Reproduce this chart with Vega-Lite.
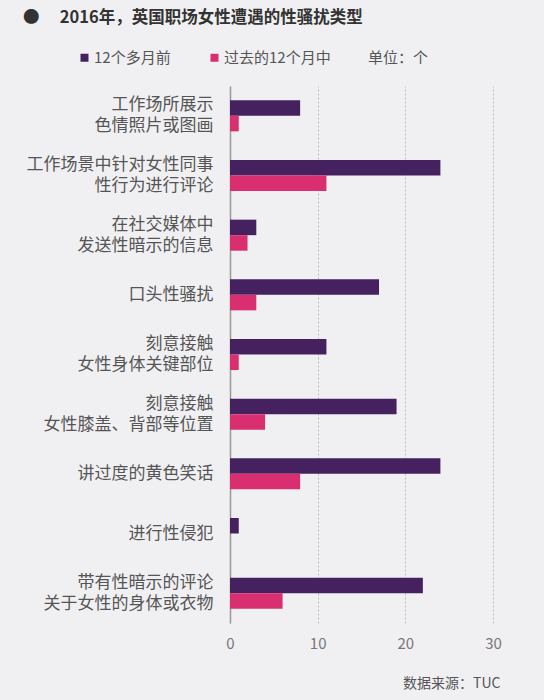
{
  "$schema": "https://vega.github.io/schema/vega-lite/v6.json",
  "autosize": "none",
  "width": 263,
  "height": 537,
  "padding": {"left": 230, "top": 86, "right": 51, "bottom": 77},
  "background": "#f0f0f2",
  "title": {
    "text": "● 　2016年，英国职场女性遭遇的性骚扰类型",
    "anchor": "start",
    "frame": "group",
    "dx": -207,
    "offset": 24,
    "fontSize": 16.5,
    "fontWeight": "bold",
    "color": "#333333",
    "font": "Noto Sans CJK SC"
  },
  "data": {
    "values": [
      {"type": "工作场所展示|色情照片或图画", "period": "12个多月前", "count": 8},
      {"type": "工作场所展示|色情照片或图画", "period": "过去的12个月中", "count": 1},
      {"type": "工作场景中针对女性同事|性行为进行评论", "period": "12个多月前", "count": 24},
      {"type": "工作场景中针对女性同事|性行为进行评论", "period": "过去的12个月中", "count": 11},
      {"type": "在社交媒体中|发送性暗示的信息", "period": "12个多月前", "count": 3},
      {"type": "在社交媒体中|发送性暗示的信息", "period": "过去的12个月中", "count": 2},
      {"type": "口头性骚扰", "period": "12个多月前", "count": 17},
      {"type": "口头性骚扰", "period": "过去的12个月中", "count": 3},
      {"type": "刻意接触|女性身体关键部位", "period": "12个多月前", "count": 11},
      {"type": "刻意接触|女性身体关键部位", "period": "过去的12个月中", "count": 1},
      {"type": "刻意接触|女性膝盖、背部等位置", "period": "12个多月前", "count": 19},
      {"type": "刻意接触|女性膝盖、背部等位置", "period": "过去的12个月中", "count": 4},
      {"type": "讲过度的黄色笑话", "period": "12个多月前", "count": 24},
      {"type": "讲过度的黄色笑话", "period": "过去的12个月中", "count": 8},
      {"type": "进行性侵犯", "period": "12个多月前", "count": 1},
      {"type": "进行性侵犯", "period": "过去的12个月中", "count": 0},
      {"type": "带有性暗示的评论|关于女性的身体或衣物", "period": "12个多月前", "count": 22},
      {"type": "带有性暗示的评论|关于女性的身体或衣物", "period": "过去的12个月中", "count": 6}
    ]
  },
  "mark": {"type": "bar"},
  "encoding": {
    "y": {
      "field": "type",
      "type": "nominal",
      "sort": null,
      "scale": {"paddingInner": 0.48, "paddingOuter": 0.24},
      "axis": {
        "title": null,
        "ticks": false,
        "labelExpr": "split(datum.label, '|')",
        "labelFontSize": 17,
        "labelLineHeight": 21,
        "labelColor": "#555555",
        "labelPadding": 17,
        "labelLimit": 260,
        "labelOffset": {"condition": {"test": "indexof(datum.label, '|') >= 0", "value": -10.5}, "value": 0},
        "domainColor": "#999999",
        "domainWidth": 1.5
      }
    },
    "yOffset": {
      "field": "period",
      "type": "nominal",
      "sort": ["12个多月前", "过去的12个月中"],
      "scale": {"paddingInner": 0, "paddingOuter": 0}
    },
    "x": {
      "field": "count",
      "type": "quantitative",
      "scale": {"domain": [0, 30], "nice": false},
      "axis": {
        "values": [0, 10, 20, 30],
        "domain": false,
        "ticks": false,
        "grid": true,
        "gridColor": "#bbbbbb",
        "gridDash": [2, 2],
        "labelFlush": false,
        "labelFontSize": 15,
        "labelColor": "#777777",
        "labelPadding": 13,
        "title": "数据来源：TUC",
        "titleFontSize": 14,
        "titleFontWeight": "normal",
        "titleColor": "#555555",
        "titleAlign": "right",
        "titleBaseline": "middle",
        "titleX": 270,
        "titleY": 60
      }
    },
    "color": {
      "field": "period",
      "type": "nominal",
      "scale": {"domain": ["12个多月前", "过去的12个月中"], "range": ["#45225f", "#d92f71"]},
      "legend": {
        "title": "单位：个",
        "orient": "none",
        "legendX": -153,
        "legendY": -36,
        "direction": "horizontal",
        "titleOrient": "right",
        "titlePadding": 37,
        "titleFontSize": 15,
        "titleFontWeight": "normal",
        "titleColor": "#555555",
        "symbolType": "square",
        "symbolSize": 64,
        "symbolStrokeWidth": 0,
        "labelFontSize": 15,
        "labelColor": "#555555",
        "labelOffset": 2,
        "columnPadding": 36
      }
    }
  },
  "config": {
    "font": "Noto Sans CJK SC",
    "view": {"stroke": null}
  }
}
